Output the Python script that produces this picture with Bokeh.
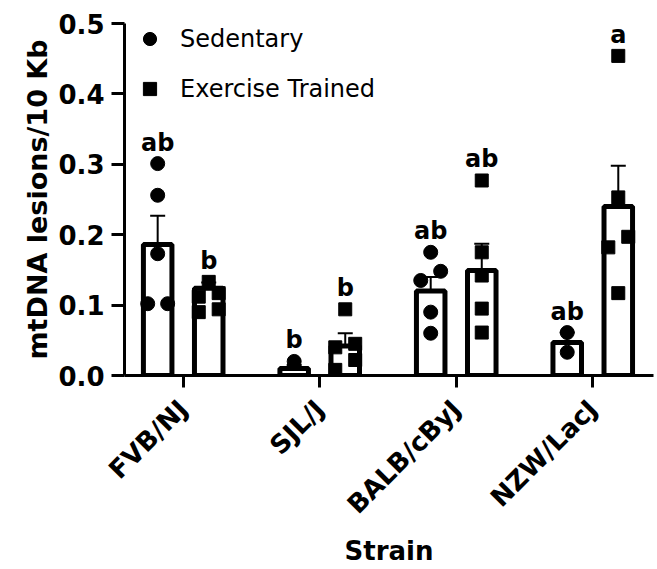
import numpy as np
from bokeh.plotting import figure
from bokeh.models import (Range1d, FixedTicker, Whisker, TeeHead, ColumnDataSource,
                          Legend, LegendItem, PrintfTickFormatter)
from bokeh.core.properties import value
from bokeh.embed import file_html
from bokeh.resources import INLINE

# ---------------- data ----------------
strains = ["FVB/NJ", "SJL/J", "BALB/cByJ", "NZW/LacJ"]
sed_mean = [0.186, 0.010, 0.120, 0.047]
sed_sem = [0.041, 0.005, 0.020, 0.014]
ex_mean = [0.124, 0.042, 0.149, 0.240]
ex_sem = [0.008, 0.018, 0.038, 0.058]
sed_points = [
    [0.301, 0.256, 0.173, 0.102, 0.102],
    [0.020],
    [0.175, 0.148, 0.135, 0.090, 0.060],
    [0.061, 0.033],
]
ex_points = [
    [0.133, 0.117, 0.112, 0.094, 0.090],
    [0.094, 0.045, 0.040, 0.022, 0.008],
    [0.277, 0.175, 0.142, 0.095, 0.061],
    [0.454, 0.253, 0.197, 0.182, 0.117],
]
sed_letters = ["ab", "b", "ab", "ab"]
ex_letters = ["b", "b", "ab", "a"]
y_ticks = [0.0, 0.1, 0.2, 0.3, 0.4, 0.5]

FONT = "DejaVu Sans"
OFF = 0.187      # dodge offset of each bar from category centre
BAR_W = 0.209
STEP = 0.146     # horizontal spacing between overlapping dots
THRESH = 0.0185  # values closer than this share a row


def swarm(vals, center):
    rows = []
    for v in sorted(vals):
        if rows and v - rows[-1][0] < THRESH:
            rows[-1].append(v)
        else:
            rows.append([v])
    xs, ys = [], []
    for r in rows:
        n = len(r)
        for k, v in enumerate(r):
            xs.append(center + (k - (n - 1) / 2) * STEP)
            ys.append(v)
    return xs, ys


idx = np.arange(len(strains))
sed_x = idx - OFF
ex_x = idx + OFF

p = figure(width=657, height=569, x_range=Range1d(-0.43, 3.445), y_range=Range1d(0, 0.5),
           output_backend="svg", toolbar_location=None,
           min_border_left=124, min_border_right=4, min_border_top=23, min_border_bottom=194)
p.grid.visible = False
p.outline_line_color = None

# bars
for xs, means in ((sed_x, sed_mean), (ex_x, ex_mean)):
    p.vbar(x=xs, top=means, width=BAR_W, bottom=0, fill_color="white",
           line_color="black", line_width=5)

# error bars
for xs, means, sems in ((sed_x, sed_mean, sed_sem), (ex_x, ex_mean, ex_sem)):
    src = ColumnDataSource(dict(x=list(xs),
                                upper=[m + s for m, s in zip(means, sems)],
                                lower=[m - s for m, s in zip(means, sems)]))
    w = Whisker(base="x", upper="upper", lower="lower", source=src, line_width=2,
                line_color="black",
                upper_head=TeeHead(size=15, line_width=2, line_color="black"),
                lower_head=TeeHead(size=15, line_width=2, line_color="black"))
    p.add_layout(w)

# points
renderers = []
for xs_c, pts, marker, size in ((sed_x, sed_points, "circle", 14), (ex_x, ex_points, "square", 13)):
    allx, ally = [], []
    for c, vals in zip(xs_c, pts):
        sx, sy = swarm(vals, c)
        allx += sx
        ally += sy
    r = p.scatter(allx, ally, marker=marker, size=size, fill_color="black", line_color="black")
    renderers.append(r)

# significance letters
for xs_c, pts, means, sems, letters in ((sed_x, sed_points, sed_mean, sed_sem, sed_letters),
                                        (ex_x, ex_points, ex_mean, ex_sem, ex_letters)):
    ly = [max(max(v), m + s) for v, m, s in zip(pts, means, sems)]
    p.text(x=list(xs_c), y=ly, text=letters, text_font=value(FONT), text_font_style="bold",
           text_font_size=value("24px"), text_align="center", text_baseline="alphabetic",
           y_offset=-21, text_color="black")

# legend
legend = Legend(items=[LegendItem(label="Sedentary", renderers=[renderers[0]]),
                       LegendItem(label="Exercise Trained", renderers=[renderers[1]])],
                location=(9, 270), orientation="vertical", glyph_width=33, glyph_height=33,
                spacing=17, padding=0, margin=0, label_standoff=14,
                label_text_font=FONT, label_text_font_size="24px", label_text_color="black",
                border_line_alpha=0, background_fill_alpha=0)
p.add_layout(legend)

# axes
for ax in (p.xaxis, p.yaxis):
    ax.axis_line_width = 3
    ax.major_tick_line_width = 3
    ax.major_tick_in = 0
    ax.minor_tick_line_color = None
    ax.major_label_text_font = FONT
    ax.major_label_text_font_style = "bold"
    ax.axis_label_text_font = FONT
    ax.axis_label_text_font_style = "bold"
    ax.major_label_text_color = "black"
    ax.axis_label_text_color = "black"

p.yaxis.ticker = FixedTicker(ticks=y_ticks)
p.yaxis.formatter = PrintfTickFormatter(format="%.1f")
p.yaxis.major_tick_out = 13
p.yaxis.major_label_text_font_size = "26px"
p.yaxis.major_label_standoff = 7
p.yaxis.axis_label = "mtDNA lesions/10 Kb"
p.yaxis.axis_label_text_font_size = "27px"
p.yaxis.axis_label_standoff = 2

p.xaxis.ticker = FixedTicker(ticks=list(idx))
p.xaxis.major_label_overrides = {int(i): s for i, s in zip(idx, strains)}
p.xaxis.major_label_orientation = np.pi / 4
p.xaxis.major_tick_out = 12
p.xaxis.major_label_text_font_size = "26px"
p.xaxis.major_label_standoff = 17
p.xaxis.axis_label = "Strain"
p.xaxis.axis_label_text_font_size = "26px"
p.xaxis.axis_label_standoff = 3

open("out.html", "w").write(file_html(p, INLINE))
